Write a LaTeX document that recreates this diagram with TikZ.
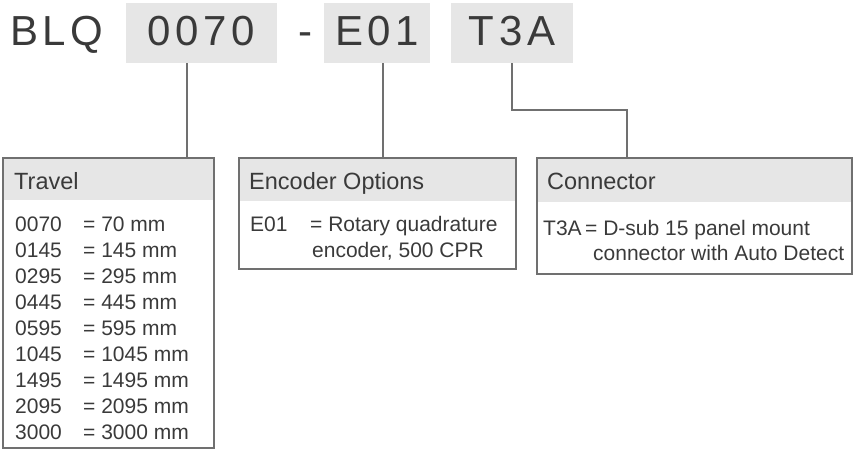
\documentclass[tikz,border=0pt]{standalone}
\usepackage{fontspec}
\setmainfont{Liberation Sans}
\usetikzlibrary{positioning}
\definecolor{gristexto}{RGB}{58, 58, 58}
\definecolor{grisfondo}{RGB}{230, 230, 230}
\definecolor{grisborde}{RGB}{112, 112, 112}
\tikzset{
    codebox/.style={fill=grisfondo, text=gristexto, inner sep=0pt, minimum height=60pt, text height=27pt, text depth=3pt, font=\fontsize{42}{42}\selectfont\addfontfeatures{LetterSpace=11}},
    codetxt/.style={text=gristexto, inner sep=0pt, anchor=base west, font=\fontsize{42}{42}\selectfont\addfontfeatures{LetterSpace=11}},
    panel/.style={draw=grisborde, line width=1.5pt, anchor=north west, inner sep=0pt},
    head/.style={fill=grisfondo, anchor=north west, inner sep=0pt},
    headtxt/.style={text=gristexto, anchor=base west, inner sep=0pt, font=\fontsize{23.5}{28}\selectfont},
    row/.style={text=gristexto, anchor=base west, inner sep=0pt, font=\fontsize{21}{25}\selectfont},
    conn/.style={-, grisborde, line width=1.5pt},
}
\begin{document}
\begin{tikzpicture}[x=1pt, y=-1pt]
            \useasboundingbox (0,0) rectangle (853,450);

            % part number
            \node[codetxt] (blq) at (10,45) {BLQ};
            \node[codebox, minimum width=151pt] (c0070) at (201.5,33) {0070};
            \node[codetxt] (dash) at (298,45) {-};
            \node[codebox, minimum width=106pt] (cE01) at (377,33) {E01};
            \node[codebox, minimum width=122pt] (cT3A) at (512,33) {T3A};

            % panels
            \node[head, minimum width=211pt, minimum height=43pt] (travelhd) at (2,157) {};
            \node[head, minimum width=277pt, minimum height=44pt] (encodhd) at (238,157) {};
            \node[head, minimum width=315pt, minimum height=45pt] (connhd) at (536,157) {};
            \node[panel, minimum width=211pt, minimum height=290pt] (travel) at (2,157) {};
            \node[panel, minimum width=277pt, minimum height=111pt] (encod) at (238,157) {};
            \node[panel, minimum width=315pt, minimum height=116pt] (connbox) at (536,157) {};

            \node[headtxt] (travelt) at (14,189) {Travel};
            \node[headtxt] (encodt) at (249,189) {Encoder Options};
            \node[headtxt] (connt) at (547,189) {Connector};

            \node[row] (t1a) at (15,231) {0070};
            \node[row] (t2a) at (15,257) {0145};
            \node[row] (t3a) at (15,283) {0295};
            \node[row] (t4a) at (15,309) {0445};
            \node[row] (t5a) at (15,335) {0595};
            \node[row] (t6a) at (15,361) {1045};
            \node[row] (t7a) at (15,387) {1495};
            \node[row] (t8a) at (15,413) {2095};
            \node[row] (t9a) at (15,439) {3000};
            \node[row] (t1b) at (83,231) {= 70 mm};
            \node[row] (t2b) at (83,257) {= 145 mm};
            \node[row] (t3b) at (83,283) {= 295 mm};
            \node[row] (t4b) at (83,309) {= 445 mm};
            \node[row] (t5b) at (83,335) {= 595 mm};
            \node[row] (t6b) at (83,361) {= 1045 mm};
            \node[row] (t7b) at (83,387) {= 1495 mm};
            \node[row] (t8b) at (83,413) {= 2095 mm};
            \node[row] (t9b) at (83,439) {= 3000 mm};

            \node[row] (e1a) at (250,231) {E01};
            \node[row] (e1b) at (310,231) {= Rotary quadrature};
            \node[row] (e2b) at (312,257) {encoder, 500 CPR};

            \node[row] (k1a) at (543,235) {T3A};
            \node[row] (k1b) at (585,235) {= D-sub 15 panel mount};
            \node[row] (k2b) at (593,260) {connector with Auto Detect};

            \draw[conn] ([xshift=-14.5pt]c0070.south) -- ([xshift=-14.5pt]c0070.south |- travel.north);
            \draw[conn] ([xshift=6pt]cE01.south) -- ([xshift=6pt]cE01.south |- encod.north);
            \draw[conn] (cT3A.south) -- ++(0,47) -| ([xshift=-67.5pt]connbox.north);
        \end{tikzpicture}
\end{document}
